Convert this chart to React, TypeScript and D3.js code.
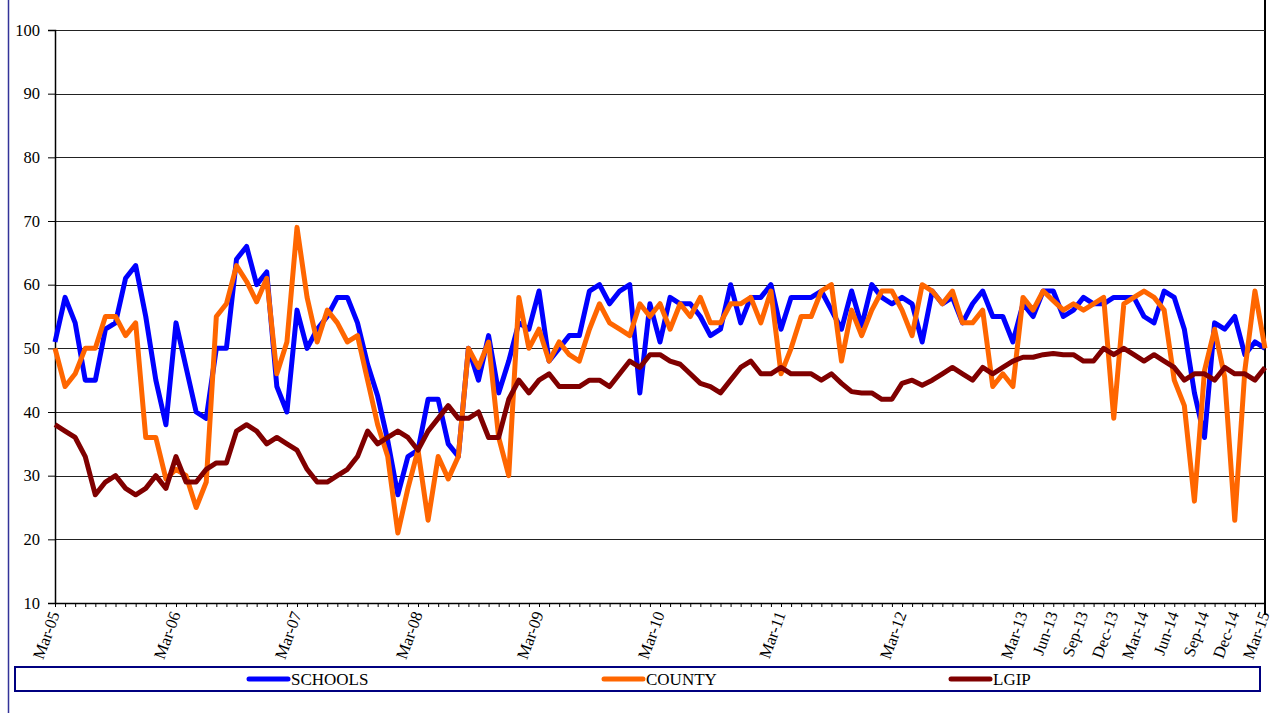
import { useEffect, useRef } from "react";
import * as d3 from "d3";

// monthly observations, Mar-05 .. Mar-15
const schools = [
  51, 58, 54, 45, 45, 53, 54, 61, 63, 55, 45, 38, 54, 47, 40, 39, 50, 50, 64, 66,
  60, 62, 44, 40, 56, 50, 53, 55, 58, 58, 54, 47.5, 42.5, 35.5, 27, 33, 34, 42, 42, 35,
  33, 50, 45, 52, 43, 48, 54, 53, 59, 48, 50, 52, 52, 59, 60, 57, 59, 60, 43, 57,
  51, 58, 57, 57, 55, 52, 53, 60, 54, 58, 58, 60, 53, 58, 58, 58, 59, 56, 53, 59,
  53.5, 60, 58, 57, 58, 57, 51, 59, 57, 58, 54, 57, 59, 55, 55, 51, 57, 55, 59, 59,
  55, 56, 58, 57, 57, 58, 58, 58, 55, 54, 59, 58, 53, 43, 36, 54, 53, 55, 49, 51,
  50,
];

const county = [
  50, 44, 46, 50, 50, 55, 55, 52, 54, 36, 36, 29.5, 31, 30, 25, 29, 55, 57, 63, 60.5,
  57.3, 61, 46, 51, 69, 58, 51, 56, 54, 51, 52, 45, 38, 33, 21, 28, 34, 23, 33, 29.5,
  33, 50, 47, 51, 36, 30, 58, 50, 53, 48, 51, 49, 48, 53, 57, 54, 53, 52, 57, 55,
  57, 53, 57, 55, 58, 54, 54, 57, 57, 58, 54, 59, 46, 50, 55, 55, 59, 60, 48, 56,
  52, 56, 59, 59, 56, 52, 60, 59, 57, 59, 54, 54, 56, 44, 46, 44, 58, 56, 59, 57.5,
  56, 57, 56, 57, 58, 39, 57, 58, 59, 58, 56, 45, 41, 26, 46.5, 53, 45.5, 23, 46.5, 59,
  50,
];

const lgip = [
  38, 37, 36, 33, 27, 29, 30, 28, 27, 28, 30, 28, 33, 29, 29, 31, 32, 32, 37, 38,
  37, 35, 36, 35, 34, 31, 29, 29, 30, 31, 33, 37, 35, 36, 37, 36, 34, 37, 39, 41,
  39, 39, 40, 36, 36, 42, 45, 43, 45, 46, 44, 44, 44, 45, 45, 44, 46, 48, 47, 49,
  49, 48, 47.5, 46, 44.5, 44, 43, 45, 47, 48, 46, 46, 47, 46, 46, 46, 45, 46, 44.5, 43.2,
  43, 43, 42, 42, 44.5, 45, 44.2, 45, 46, 47, 46, 45, 47, 46, 47, 48, 48.6, 48.6, 49, 49.2,
  49, 49, 48, 48, 50, 49, 50, 49, 48, 49, 48, 47, 45, 46, 46, 45, 47, 46, 46, 45,
  47,
];

const tickLabels = [
  "Mar-05", "Mar-06", "Mar-07", "Mar-08", "Mar-09", "Mar-10", "Mar-11", "Mar-12",
  "Mar-13", "Jun-13", "Sep-13", "Dec-13", "Mar-14", "Jun-14", "Sep-14", "Dec-14", "Mar-15",
];

const yTicks = [10, 20, 30, 40, 50, 60, 70, 80, 90, 100];

const seriesNames = ["SCHOOLS", "COUNTY", "LGIP"];
const seriesColors = ["#0000ff", "#ff6600", "#800000"];
const legendX = [249, 604, 951];

const fmt = d3.timeFormat("%b-%y");
const months = d3.timeMonth
  .range(new Date(2005, 2, 1), new Date(2015, 3, 1))
  .map((d) => fmt(d));

const FONT = '"Liberation Serif", "Times New Roman", serif';

export default function App() {
  const svgRef = useRef<SVGSVGElement>(null);

  useEffect(() => {
    const svg = d3.select(svgRef.current);
    svg.selectAll("*").remove();

    const left = 55, right = 1265, top = 30, bottom = 603;

    const x = d3.scalePoint<string>().domain(months).range([left, right]);
    const y = d3.scaleLinear().domain([10, 100]).range([bottom, top]);

    // outer frame pieces
    svg.append("line")
      .attr("x1", 8.5).attr("x2", 8.5).attr("y1", 0).attr("y2", 713)
      .attr("stroke", "#333399").attr("stroke-width", 1.5);
    svg.append("line")
      .attr("x1", right).attr("x2", right).attr("y1", 0).attr("y2", 615)
      .attr("stroke", "#000").attr("stroke-width", 2);

    // gridlines
    svg.append("g")
      .selectAll("line")
      .data(yTicks.slice(1))
      .enter()
      .append("line")
      .attr("x1", left).attr("x2", right)
      .attr("y1", (d) => Math.round(y(d)) + 0.5)
      .attr("y2", (d) => Math.round(y(d)) + 0.5)
      .attr("stroke", "#222").attr("stroke-width", 1);

    // y axis
    const yAxis = svg.append("g")
      .attr("transform", `translate(${left},0)`)
      .call(d3.axisLeft(y).tickValues(yTicks).tickSize(7).tickPadding(8).tickFormat(d3.format("d")));
    yAxis.select(".domain").attr("stroke", "#000").attr("stroke-width", 1.5);
    yAxis.selectAll(".tick line").attr("stroke", "#000");
    yAxis.selectAll(".tick text")
      .attr("font-family", FONT).attr("font-size", 16.5).attr("fill", "#000");

    // x axis
    const xAxis = svg.append("g")
      .attr("transform", `translate(0,${bottom})`)
      .call(
        d3.axisBottom(x)
          .tickValues(months)
          .tickSize(4)
          .tickSizeOuter(0)
          .tickFormat((d) => (tickLabels.includes(d) ? d : ""))
      );
    xAxis.select(".domain").attr("stroke", "#000").attr("stroke-width", 1.5);
    xAxis.selectAll(".tick line").attr("stroke", "#000");
    xAxis.selectAll(".tick text")
      .attr("font-family", FONT).attr("font-size", 16.5).attr("fill", "#000")
      .attr("text-anchor", "end")
      .attr("x", null).attr("y", null).attr("dy", "0.35em")
      .attr("transform", "translate(-1,9) rotate(-70)");

    // series
    const line = d3.line<number>()
      .x((_, i) => x(months[i]) as number)
      .y((d) => y(d));

    [schools, county, lgip].forEach((data, k) => {
      svg.append("path")
        .datum(data)
        .attr("d", line)
        .attr("fill", "none")
        .attr("stroke", seriesColors[k])
        .attr("stroke-width", 5)
        .attr("stroke-linejoin", "round");
    });

    // legend
    svg.append("rect")
      .attr("x", 15).attr("y", 667).attr("width", 1245).attr("height", 24)
      .attr("fill", "#fff").attr("stroke", "#000080").attr("stroke-width", 2);

    const items = svg.append("g")
      .selectAll("g")
      .data(seriesNames)
      .enter()
      .append("g")
      .attr("transform", (_, i) => `translate(${legendX[i]},679)`);
    items.append("line")
      .attr("x1", 0).attr("x2", 39)
      .attr("stroke", (_, i) => seriesColors[i])
      .attr("stroke-width", 5).attr("stroke-linecap", "round");
    items.append("text")
      .attr("x", 42).attr("dy", "0.35em")
      .attr("font-family", FONT).attr("font-size", 17).attr("fill", "#000")
      .text((d) => d);
  }, []);

  return (
    <svg
      ref={svgRef}
      width={1279}
      height={713}
      style={{ position: "absolute", left: 0, top: 0, background: "#fff" }}
    />
  );
}
